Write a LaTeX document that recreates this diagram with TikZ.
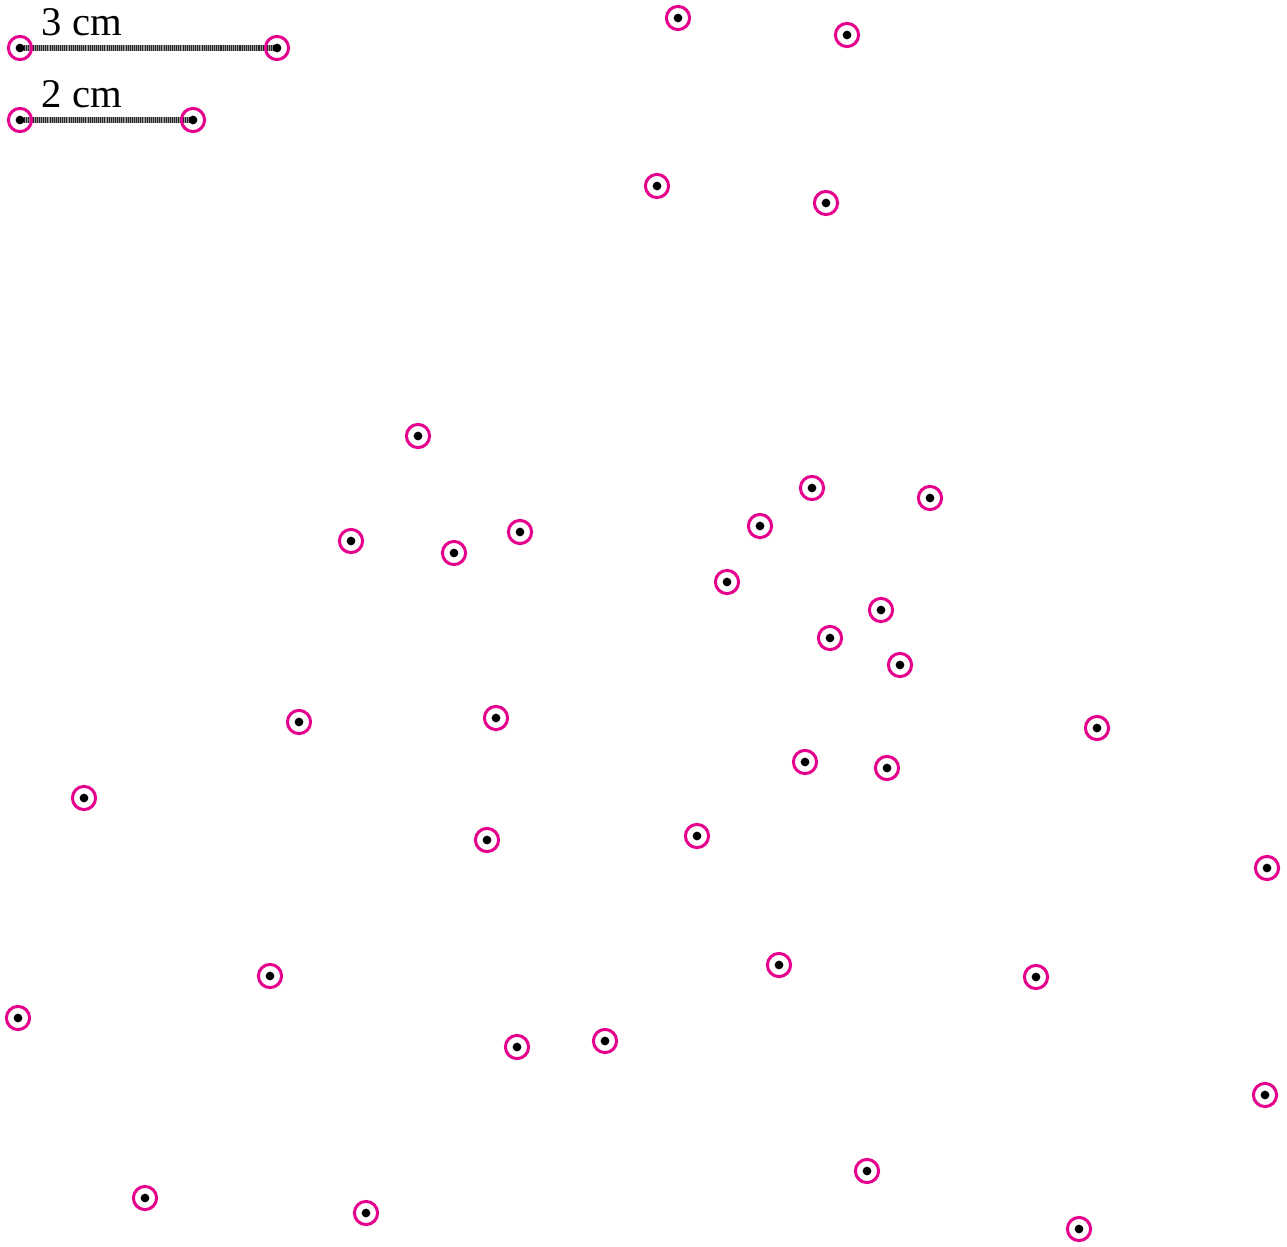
\documentclass[tikz,border=0pt]{standalone}
\usepackage{fontspec}
\setmainfont{Liberation Serif}
\definecolor{ringmag}{RGB}{228,0,140}
\tikzset{
  pt/.style={circle, draw=ringmag, line width=1pt, minimum size=7.7pt, inner sep=0pt,
    path picture={\fill[black] (path picture bounding box.center) circle (1.45pt);}},
  barline/.style={line width=1.9pt, black!40},
  barhatch/.style={line width=1.9pt, black!85, dash pattern=on 0.35pt off 0.35pt},
  lbl/.style={anchor=base west, inner sep=0pt, font=\fontsize{13.5}{15}\selectfont}
}
\begin{document}
\begin{tikzpicture}[x=0.011655cm, y=-0.011655cm]
\useasboundingbox (0,0) rectangle (1287,1247);
% scale bars
\coordinate (a1) at (20,48);
\coordinate (a2) at (277,48);
\coordinate (b1) at (20,120);
\coordinate (b2) at (193,120);
\draw[barline] (a1) -- (a2);
\draw[barhatch] (a1) -- (a2);
\draw[barline] (b1) -- (b2);
\draw[barhatch] (b1) -- (b2);
\node[pt] (sa1) at (a1) {};
\node[pt] (sa2) at (a2) {};
\node[pt] (sb1) at (b1) {};
\node[pt] (sb2) at (b2) {};
\node[lbl] (la) at (41,35.5) {3 cm};
\node[lbl] (lb) at (41,107.5) {2 cm};
% points
\foreach \x/\y [count=\i] in {
678/18, 847/35, 657/186, 826/203, 418/436, 812/488, 930/498, 351/541,
454/553, 520/532, 760/526, 727/582, 881/610, 830/638, 900/665, 299/722,
496/718, 1097/728, 805/762, 887/768, 84/798, 487/840, 697/836, 1267/868,
270/976, 779/965, 1036/977, 18/1018, 517/1047, 605/1041, 1265/1095,
867/1171, 145/1198, 366/1213, 1079/1229}
  \node[pt] (p\i) at (\x,\y) {};
\end{tikzpicture}
\end{document}
